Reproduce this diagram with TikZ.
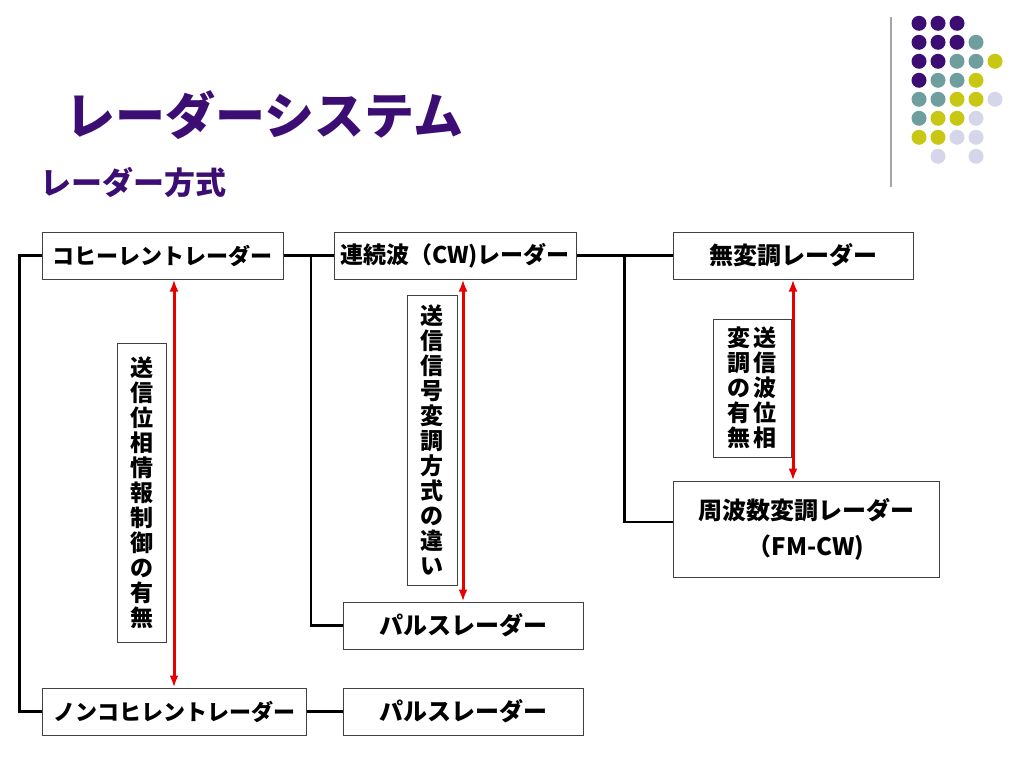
\documentclass[tikz,border=0pt]{standalone}
\usepackage{fontspec}
\setmainfont{Noto Sans CJK JP}
\usetikzlibrary{arrows.meta,positioning,calc}

\definecolor{deeppurple}{RGB}{60,14,115}
\definecolor{dotteal}{RGB}{110,158,158}
\definecolor{dotyellow}{RGB}{200,200,20}
\definecolor{dotlilac}{RGB}{214,214,234}
\definecolor{arrowred}{RGB}{230,0,0}

\tikzset{
  radar/.style={draw=black!75, line width=1pt, fill=white, minimum height=47pt, inner sep=0pt,
    align=center, font=\fontsize{22}{34}\selectfont\bfseries},
  wide/.style={font=\fontsize{24}{36}\selectfont\bfseries},
  note/.style={draw=black!75, line width=1pt, fill=white, inner sep=0pt, align=center,
    font=\fontsize{23}{25}\selectfont\bfseries},
  tree/.style={line width=2.5pt},
  link/.style={draw=arrowred, line width=3pt, {Latex[length=12pt,width=9pt]}-{Latex[length=12pt,width=9pt]}},
  dot/.style={circle, minimum size=15pt, inner sep=0pt},
}

\begin{document}
\begin{tikzpicture}[x=1pt,y=-1pt]
        \useasboundingbox (0,0) rectangle (1024,768);

        % title
        \node[anchor=west, text=deeppurple, font=\fontsize{50}{56}\selectfont\bfseries] (title) at (62,115) {レーダーシステム};
        \node[anchor=west, text=deeppurple, font=\fontsize{31}{36}\selectfont\bfseries] (subtitle) at (37,183) {レーダー方式};

        % corner dots
        \draw[gray!70, line width=1.2pt] (891,17) -- (891,187);
        \foreach \c/\r/\col in {1/1/deeppurple,2/1/deeppurple,3/1/deeppurple,
            1/2/deeppurple,2/2/deeppurple,3/2/deeppurple,4/2/dotteal,
            1/3/deeppurple,2/3/deeppurple,3/3/dotteal,4/3/dotteal,5/3/dotyellow,
            1/4/deeppurple,2/4/dotteal,3/4/dotteal,4/4/dotyellow,
            1/5/dotteal,2/5/dotteal,3/5/dotyellow,4/5/dotyellow,5/5/dotlilac,
            1/6/dotteal,2/6/dotyellow,3/6/dotyellow,4/6/dotlilac,
            1/7/dotyellow,2/7/dotyellow,3/7/dotlilac,4/7/dotlilac,
            2/8/dotlilac,4/8/dotlilac}
            \node[dot, fill=\col] (dot-\c-\r) at ({900+19*\c},{4.3+19*\r}) {};

        % radar boxes
        \node[radar, minimum width=241pt] (coherent) at (162.5,255.5) {コヒーレントレーダー};
        \node[radar, minimum width=242pt, font=\fontsize{23}{34}\selectfont\bfseries] (cw) at (455,255.5) {連続波（CW)レーダー};
        \node[radar, wide, minimum width=240pt] (nomod) at (793,255.5) {無変調レーダー};
        \node[radar, wide, minimum width=266pt, minimum height=96pt] (fmcw) at (806,529) {周波数変調レーダー\\（FM-CW)};
        \node[radar, wide, minimum width=240pt] (pulse) at (463,625.5) {パルスレーダー};
        \node[radar, minimum width=264pt] (noncoherent) at (174,711.5) {ノンコヒレントレーダー};
        \node[radar, wide, minimum width=240pt] (noncoherent pulse) at (463,711.5) {パルスレーダー};

        % tree lines
        \coordinate (cw fork) at ($(coherent.east)!0.55!(cw.west)$);
        \coordinate (mod fork) at ($(cw.east)!0.5!(nomod.west)$);
        \draw[tree] (coherent.west) -- ++(-22,0) |- (noncoherent.west);
        \draw[tree] (coherent.east) -- (cw.west);
        \draw[tree] (cw fork) |- (pulse.west);
        \draw[tree] (cw.east) -- (nomod.west);
        \draw[tree] (mod fork) |- ([yshift=7pt]fmcw.west);
        \draw[tree] (noncoherent.east) -- (noncoherent pulse.west);

        % red arrows
        \draw[link] (noncoherent.north) -- (noncoherent.north |- coherent.south);
        \draw[link] (pulse.north) -- (pulse.north |- cw.south);
        \draw[link] (nomod.south) -- (nomod.south |- fmcw.north);

        % notes
        \node[note, minimum width=49pt, minimum height=299pt] (phase note) at (141.5,492.5)
            {送\\信\\位\\相\\情\\報\\制\\御\\の\\有\\無};
        \node[note, minimum width=50pt, minimum height=290pt] (signal note) at (432,440)
            {送\\信\\信\\号\\変\\調\\方\\式\\の\\違\\い};
        \node[note, minimum width=78pt, minimum height=138pt] (mod note) at (752,388)
            {変\hspace{3pt}送\\調\hspace{3pt}信\\の\hspace{3pt}波\\有\hspace{3pt}位\\無\hspace{3pt}相};
\end{tikzpicture}
\end{document}
